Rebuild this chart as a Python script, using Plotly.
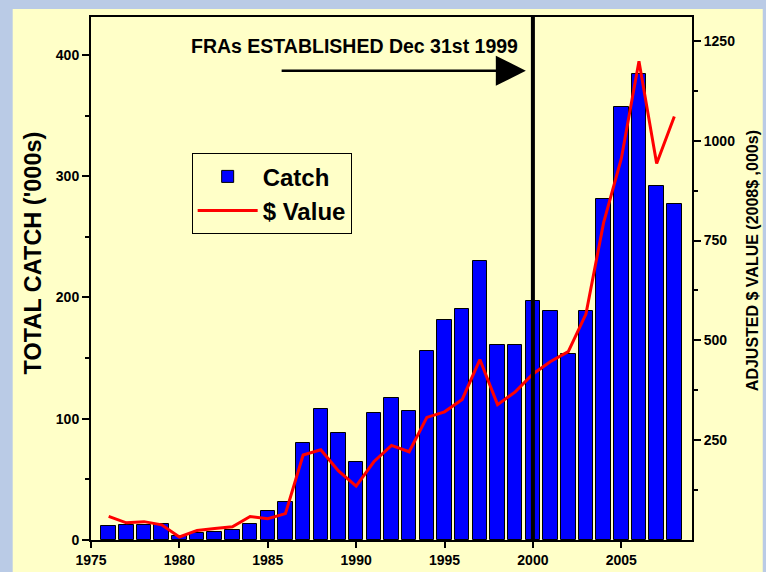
import plotly.graph_objects as go

# ── Data ─────────────────────────────────────────────
years = list(range(1976, 2009))
catch = [11.5, 12.4, 12.4, 13, 3, 6, 6.6, 8, 13, 23.6, 31,
         80, 108, 88, 64.5, 105, 117.5, 106, 156, 181.5, 190.5,
         230, 161, 161, 197.5, 188.5, 153, 189, 281.5, 357, 384.5,
         292, 277.5]
value = [59, 43, 46, 38, 7.5, 24, 29, 33, 59, 53.5, 66,
         213, 226, 173, 135, 196, 237, 221, 307, 321, 352,
         452, 339, 371, 416, 447, 472, 566, 795, 955, 1199,
         943, 1061]

FONT = "Arial, Liberation Sans, sans-serif"
YELLOW = "#FFFFC8"
BLUE_BG = "#BACBE6"

fig = go.Figure()

fig.add_trace(go.Bar(
    x=years, y=catch, name="Catch", width=0.82,
    marker=dict(color="#0000FF", line=dict(color="black", width=1)),
))
fig.add_trace(go.Scatter(
    x=years, y=value, name="$ Value", mode="lines", yaxis="y2",
    line=dict(color="#FF0000", width=3),
))

# yellow panel behind everything
fig.add_shape(type="rect", xref="paper", yref="paper",
              x0=-0.1303, x1=1.1177, y0=-0.08, y1=1.0153,
              fillcolor=YELLOW, line=dict(width=0), layer="below")

# FRA establishment line
fig.add_shape(type="line", xref="x", yref="paper",
              x0=2000, x1=2000, y0=0, y1=1,
              line=dict(color="black", width=4), layer="above")

fig.add_annotation(x=1989.9, y=407, xref="x", yref="y",
                   text="FRAs ESTABLISHED Dec 31st 1999", showarrow=False,
                   font=dict(family=FONT, size=19.5, color="black", weight="bold"))
fig.add_annotation(x=1999.6, y=387, ax=1985.7, ay=387,
                   xref="x", yref="y", axref="x", ayref="y",
                   text="", showarrow=True, arrowhead=2,
                   arrowsize=2.4, arrowwidth=2.5, arrowcolor="black")

# axis titles
fig.add_annotation(x=-0.0965, y=0.548, xref="paper", yref="paper",
                   xanchor="center", yanchor="middle",
                   text="TOTAL CATCH ('000s)", textangle=-90, showarrow=False,
                   font=dict(family=FONT, size=23.5, color="black", weight="bold"))
fig.add_annotation(x=1.0998, y=0.535, xref="paper", yref="paper",
                   xanchor="center", yanchor="middle",
                   text="ADJUSTED $ VALUE (2008$ ,000s)", textangle=-90,
                   showarrow=False,
                   font=dict(family=FONT, size=16, color="black", weight="bold"))

tickfont = dict(family=FONT, size=14, color="black", weight="bold")

fig.update_layout(
    width=766, height=572,
    margin=dict(l=91, r=74, t=17, b=32),
    paper_bgcolor=BLUE_BG,
    plot_bgcolor=YELLOW,
    font=dict(family=FONT, color="black"),
    bargap=0,
    showlegend=True,
    legend=dict(
        x=0.1675, y=0.7394, xanchor="left", yanchor="top",
        bgcolor=YELLOW, bordercolor="black", borderwidth=1,
        font=dict(family=FONT, size=24, color="black", weight="bold"),
        itemwidth=60,
    ),
    xaxis=dict(
        range=[1975, 2009], tickvals=[1975, 1980, 1985, 1990, 1995, 2000, 2005],
        ticks="outside", ticklen=6, tickwidth=1.5, tickcolor="black",
        showline=True, linecolor="black", linewidth=2, mirror=True,
        showgrid=False, zeroline=False, tickfont=tickfont, automargin=False,
    ),
    yaxis=dict(
        range=[0, 431.3], tickvals=[0, 100, 200, 300, 400],
        ticks="outside", ticklen=7, tickwidth=1.5, tickcolor="black",
        minor=dict(dtick=50, ticks="outside", ticklen=4, tickwidth=1.5,
                   tickcolor="black", showgrid=False),
        showline=True, linecolor="black", linewidth=2, mirror=True,
        showgrid=False, zeroline=False, tickfont=tickfont, automargin=False,
    ),
    yaxis2=dict(
        overlaying="y", side="right",
        range=[0, 1310], tickvals=[250, 500, 750, 1000, 1250],
        ticks="outside", ticklen=7, tickwidth=1.5, tickcolor="black",
        minor=dict(tickvals=[125, 375, 625, 875, 1125], ticks="outside",
                   ticklen=4, tickwidth=1.5, tickcolor="black", showgrid=False),
        showline=True, linecolor="black", linewidth=2,
        showgrid=False, zeroline=False, tickfont=tickfont, automargin=False,
    ),
)

# drop the default page margin so the figure sits at the window's corner
fig.write_html("out.html", config={"displayModeBar": False},
               post_script="document.body.style.margin='0';")
